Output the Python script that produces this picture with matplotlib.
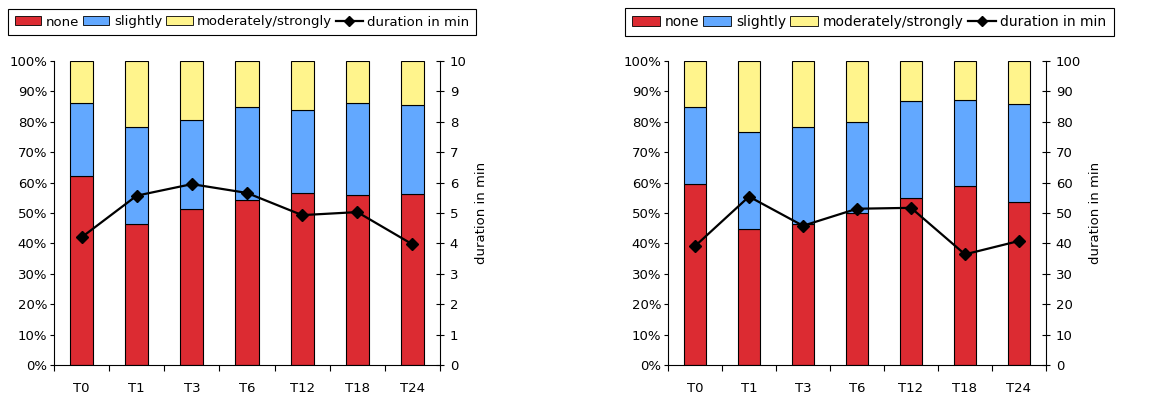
import matplotlib
matplotlib.use("Agg")
import matplotlib.pyplot as plt
from matplotlib.ticker import FuncFormatter, MultipleLocator
from matplotlib.patches import Patch
from matplotlib.lines import Line2D
import numpy as np

categories = ["T0", "T1", "T3", "T6", "T12", "T18", "T24"]

# left chart (percent)
left_none = [62.2, 46.4, 51.4, 54.2, 56.5, 55.9, 56.3]
left_slightly = [23.9, 31.9, 29.1, 30.7, 27.3, 30.2, 29.3]
left_duration = [4.2, 5.57, 5.95, 5.66, 4.93, 5.03, 3.97]

# right chart (percent)
right_none = [59.6, 44.8, 46.5, 50.1, 54.8, 58.9, 53.6]
right_slightly = [25.4, 31.7, 31.8, 29.7, 31.9, 28.2, 32.2]
right_duration = [39.1, 55.4, 45.8, 51.4, 51.7, 36.4, 40.8]

legend_labels = ["none", "slightly", "moderately/strongly", "duration in min"]
c_none = "#DC2B32"
c_slight = "#62A8FF"
c_mod = "#FFF48C"

plt.rcParams["font.family"] = ["DejaVu Sans"]
plt.rcParams["font.size"] = 9.5

fig = plt.figure(figsize=(11.58, 3.94), dpi=100)

def draw(rect, none, slightly, duration, dmax, legend_rect, legfs):
    ax = fig.add_axes(rect)
    x = np.arange(len(categories))
    mod = [100 - a - b for a, b in zip(none, slightly)]
    w = 0.42
    kw = dict(width=w, edgecolor="black", linewidth=0.8)
    ax.bar(x, none, color=c_none, **kw)
    ax.bar(x, slightly, bottom=none, color=c_slight, **kw)
    ax.bar(x, mod, bottom=[a + b for a, b in zip(none, slightly)], color=c_mod, **kw)
    ax.set_ylim(0, 100)
    ax.set_xlim(-0.5, len(categories) - 0.5)
    ax.yaxis.set_major_locator(MultipleLocator(10))
    ax.yaxis.set_major_formatter(FuncFormatter(lambda v, p: f"{int(round(v))}%"))
    ax.set_xticks(x)
    ax.set_xticklabels(categories)
    ax.set_xticks(np.arange(-0.5, len(categories)), minor=True)
    ax.tick_params(axis="x", which="major", length=0, pad=12)
    ax.tick_params(axis="x", which="minor", length=4, direction="out", width=0.8)
    ax.tick_params(axis="y", length=3, direction="out", width=0.8, pad=2)
    ax.spines["top"].set_visible(False)
    ax.spines["right"].set_visible(False)
    for s in ("left", "bottom"):
        ax.spines[s].set_linewidth(0.8)
    ax2 = ax.twinx()
    ax2.plot(x, duration, color="black", lw=1.6, marker="D", markersize=6.5)
    ax2.set_ylim(0, dmax)
    ax2.yaxis.set_major_locator(MultipleLocator(dmax / 10))
    ax2.tick_params(axis="y", length=6, direction="inout", width=0.8, pad=4)
    ax2.spines["top"].set_visible(False)
    ax2.spines["left"].set_visible(False)
    ax2.spines["bottom"].set_visible(False)
    ax2.spines["right"].set_linewidth(0.8)
    ax2.set_ylabel("duration in min", fontsize=9.5, labelpad=6)
    handles = [Patch(facecolor=c_none, edgecolor="black", lw=0.6),
               Patch(facecolor=c_slight, edgecolor="black", lw=0.6),
               Patch(facecolor=c_mod, edgecolor="black", lw=0.6),
               Line2D([0], [0], color="black", lw=1.6, marker="D", markersize=5)]
    leg = fig.legend(handles, legend_labels, ncol=4, loc="center left",
                     bbox_to_anchor=legend_rect, frameon=True, fancybox=False,
                     edgecolor="black", framealpha=1, borderpad=0.5,
                     borderaxespad=0,
                     handlelength=2.0, handleheight=0.65, handletextpad=0.35,
                     columnspacing=0.3, fontsize=legfs)
    leg.get_frame().set_linewidth(0.8)
    return ax

draw([54 / 1158, 1 - 365 / 394, 386 / 1158, 304 / 394],
     left_none, left_slightly, left_duration, 10, (8 / 1158, 1 - 22 / 394), 9.5)
draw([668 / 1158, 1 - 365 / 394, 378 / 1158, 304 / 394],
     right_none, right_slightly, right_duration, 100, (625 / 1158, 1 - 22 / 394), 10)

fig.savefig("out.png", dpi=100)
